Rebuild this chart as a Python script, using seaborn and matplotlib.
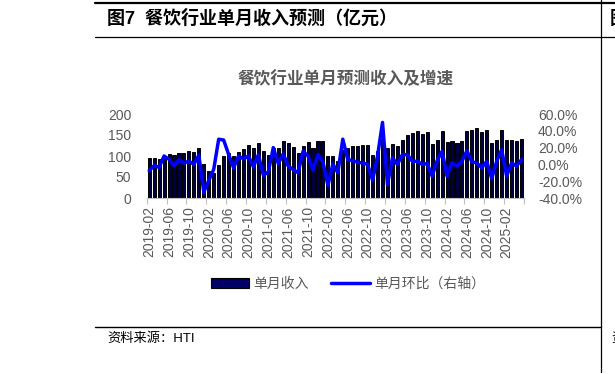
import numpy as np
import pandas as pd
import matplotlib
matplotlib.use("Agg")
import matplotlib.pyplot as plt
import seaborn as sns
from matplotlib.lines import Line2D
from matplotlib.patches import Patch

sns.set_theme(style="white")
plt.rcParams["font.family"] = ["Liberation Sans", "Noto Sans CJK SC", "DejaVu Sans"]

# monthly categories 2019-02 .. 2025-05
months = pd.date_range("2019-02-01", periods=76, freq="MS").strftime("%Y-%m").tolist()

# single-month revenue (亿元)
revenue = [96, 96, 92, 100, 104, 102, 107, 107, 111, 109, 120, 80,
           64, 60, 78, 100, 106, 100, 110, 116, 126, 120, 132, 113,
           102, 120, 120, 136, 131, 122, 107, 123, 133, 120, 135, 135,
           100, 100, 88, 114, 120, 124, 125, 127, 127, 102, 112, 140,
           120, 128, 125, 138, 151, 155, 159, 152, 156, 128, 138, 159,
           134, 136, 131, 136, 159, 162, 166, 157, 161, 131, 139, 163,
           138, 139, 135, 141]

# month-on-month change (%), right axis
mom = [-7.5, -1.5, -3.5, 10, 6, -1.5, 5.5, 1.5, 4, 0, 11, -33,
       -19, -6, 30, 29, 12, -4, 10, 6.5, 10, -3, 11.6, -13,
       -9, 20, 1, 12.5, -2, -6, -10, 15.6, 10, -7, 11.6, 3,
       -25, 0.5, -10, 30, 5.7, 4.5, 2.5, 1.7, 0, -19, 10, 50,
       -24, 7.7, 0, 11.6, 11.6, 3.7, 3.7, 0, 1, -14, 4.5, 15.6,
       -14, 1.7, -2, 3.7, 16.4, 3, 1.7, -4, 3.7, -17, 3.7, 17.6,
       -14, 1.7, -2, 5.7]

df = pd.DataFrame({"month": months, "revenue": revenue, "mom": mom})
df["pos"] = np.arange(len(df))

W, H = 615, 374
GRAY = "#595959"
BAR_COLOR = "#000040"


def fx(px):
    return px / W


def fy(py):
    return 1 - py / H


fig = plt.figure(figsize=(W / 100, H / 100), dpi=100)
ax = fig.add_axes([fx(146.7), fy(198), fx(524) - fx(146.7), fy(114) - fy(198)])

sns.barplot(data=df, x="month", y="revenue", color=BAR_COLOR, saturation=1,
            width=0.62, edgecolor="black", linewidth=0.7, ax=ax)

ax2 = ax.twinx()
sns.lineplot(x=df["pos"], y=df["mom"], color="#0000FF", linewidth=2.5, ax=ax2)

ax.set_xlim(-0.5, len(df) - 0.5)
ax.set_ylim(0, 200)
ax.set_yticks(range(0, 201, 50))
ax2.set_ylim(-40, 60)
ax2.set_yticks(range(-40, 61, 20))
ax2.set_yticklabels([f"{v:.1f}%" for v in range(-40, 61, 20)])

ax.set_xticks(df["pos"][::4])
ax.set_xticklabels(df["month"][::4], rotation=90)
ax.set_xticks(np.arange(-0.5, len(df), 4), minor=True)
ax.tick_params(axis="x", which="major", length=0, pad=6, labelsize=10, labelcolor=GRAY)
ax.tick_params(axis="x", which="minor", length=4, width=0.8, color="#BFBFBF", bottom=True)
ax.tick_params(axis="y", length=0, labelsize=10, labelcolor=GRAY, pad=11)
ax2.tick_params(axis="y", length=0, labelsize=10, labelcolor=GRAY, pad=10)

for a in (ax, ax2):
    for s in a.spines.values():
        s.set_visible(False)
    a.set_xlabel("")
    a.set_ylabel("")
    a.grid(False)
ax.spines["bottom"].set_visible(True)
ax.spines["bottom"].set_color("#BFBFBF")
ax.spines["bottom"].set_linewidth(0.8)

# chart title
fig.text(fx(346), fy(79), "餐饮行业单月预测收入及增速", ha="center", va="center",
         fontsize=12, fontweight="bold", color=GRAY)

# legend
handles = [Patch(facecolor="#000066", edgecolor="black", linewidth=0.8),
           Line2D([0], [0], color="#0000FF", linewidth=2.5)]
fig.legend(handles, ["单月收入", "单月环比（右轴）"], loc="center",
           bbox_to_anchor=(fx(348), fy(284)), ncol=2, frameon=False,
           fontsize=10, labelcolor=GRAY, handlelength=2.8, handletextpad=0.3,
           columnspacing=1.6)

# report frame: rules, figure caption and source
frame = dict(transform=fig.transFigure, color="black")
fig.add_artist(Line2D([fx(95), 1], [fy(3), fy(3)], linewidth=1.6, **frame))
fig.add_artist(Line2D([fx(95), 1], [fy(37), fy(37)], linewidth=0.9, **frame))
fig.add_artist(Line2D([fx(95), fx(601)], [fy(327), fy(327)], linewidth=1.0, **frame))
fig.add_artist(Line2D([fx(601), fx(601)], [fy(0), fy(372)], linewidth=0.9, **frame))

fig.text(fx(107), fy(19), "图7  餐饮行业单月收入预测（亿元）", ha="left", va="center",
         fontsize=13, fontweight="bold", color="black")
# fragments of the neighbouring column, cut by the page edge as in the source
fig.text(fx(610), fy(19), "图", ha="left", va="center",
         fontsize=13, fontweight="bold", color="black")
fig.text(fx(611), fy(339), "资", ha="left", va="center",
         fontsize=9.5, color="black")
fig.text(fx(107), fy(339), "资料来源：HTI", ha="left", va="center",
         fontsize=9.5, color="black")

fig.savefig("out.png", dpi=100)
plt.close(fig)
